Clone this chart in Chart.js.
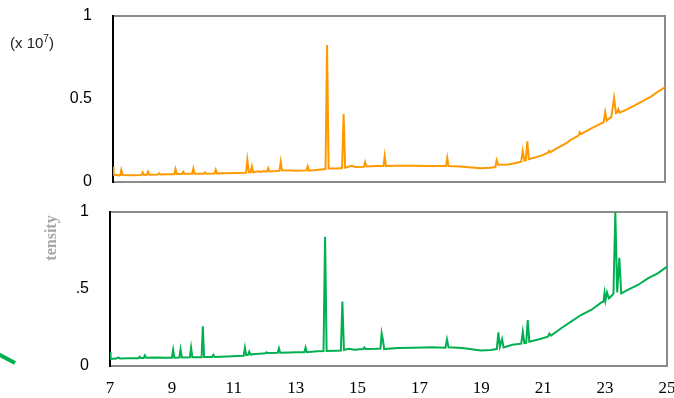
<!DOCTYPE html>
<html>
<head>
<meta charset="utf-8">
<script src="https://cdn.jsdelivr.net/npm/chart.js@4/dist/chart.umd.min.js"></script>
<style>
  html, body { margin: 0; padding: 0; background: #fff; }
  #wrap { position: relative; width: 674px; height: 398px; overflow: hidden; background: #fff; }
  canvas { position: absolute; left: 0; }
  #topCanvas { top: 0; }
  #bottomCanvas { top: 198px; }
  .unit { position: absolute; left: 10px; top: 33px; font: 15px "Liberation Sans", Arial, sans-serif; color: #222; white-space: nowrap; }
  .unit sup { font-size: 10px; }
  .ylab { position: absolute; left: 51px; top: 238px; transform: translate(-50%, -50%) rotate(-90deg);
          font: bold 16px "Liberation Serif", "Times New Roman", serif; color: #a6a6a6; white-space: nowrap; }
  svg.deco { position: absolute; left: 0; top: 0; }
</style>
</head>
<body>
<div id="wrap">
  <canvas id="topCanvas" width="674" height="198"></canvas>
  <canvas id="bottomCanvas" width="674" height="200"></canvas>
  <div class="unit">(x 10<sup>7</sup>)</div>
  <div class="ylab">tensity</div>
  <svg class="deco" width="40" height="398"><line x1="-2" y1="354" x2="15" y2="363" stroke="#00b050" stroke-width="4" stroke-linecap="butt"/></svg>
</div>
<script>
// Retention time axis (min) and intensity axis (x 10^7)
const xTickValues = [7, 9, 11, 13, 15, 17, 19, 21, 23, 25];
const yTickValues = [0, 0.5, 1];
const topYLabels = ['0', '0.5', '1'];
const bottomYLabels = ['0', '.5', '1'];

// Upper trace (orange)
const topTimes = [
  7.00, 7.02, 7.20, 7.24, 7.27, 7.31, 7.60, 7.93, 7.97, 8.01, 8.10, 8.14, 8.18, 8.46, 8.50, 8.54,
  8.80, 9.00, 9.04, 9.08, 9.25, 9.29, 9.33, 9.58, 9.62, 9.66, 9.96, 10.00, 10.04, 10.31, 10.35, 10.39,
  10.70, 11.00, 11.34, 11.38, 11.43, 11.49, 11.53, 11.57, 11.73, 11.80, 11.92, 11.98, 12.02, 12.06, 12.10,
  12.30, 12.43, 12.47, 12.51, 12.80, 13.00, 13.31, 13.35, 13.39, 13.70, 13.93, 13.98, 14.03, 14.30,
  14.47, 14.52, 14.57, 14.78, 14.90, 15.18, 15.22, 15.26, 15.60, 15.82, 15.86, 15.90, 16.30, 16.80,
  17.30, 17.86, 17.90, 17.94, 18.30, 18.70, 19.00, 19.30, 19.47, 19.51, 19.56, 19.60, 19.90, 20.20,
  20.31, 20.36, 20.42, 20.46, 20.51, 20.56, 20.80, 21.00, 21.18, 21.22, 21.26, 21.50, 21.80, 21.92,
  22.00, 22.18, 22.22, 22.26, 22.45, 22.58, 22.75, 22.90, 23.00, 23.05, 23.10, 23.20, 23.25, 23.34,
  23.40, 23.44, 23.48, 23.52, 23.80, 24.00, 24.30, 24.54, 24.80, 25.00
];
const topValues = [
  0.092, 0.045, 0.040, 0.042, 0.072, 0.042, 0.040, 0.042, 0.058, 0.043, 0.044, 0.062, 0.044, 0.045, 0.052, 0.045,
  0.046, 0.047, 0.078, 0.048, 0.048, 0.062, 0.049, 0.049, 0.082, 0.050, 0.050, 0.058, 0.050, 0.051, 0.074, 0.052,
  0.053, 0.054, 0.056, 0.133, 0.058, 0.058, 0.094, 0.059, 0.065, 0.061, 0.066, 0.062, 0.064, 0.084, 0.064,
  0.066, 0.068, 0.122, 0.070, 0.069, 0.068, 0.070, 0.094, 0.068, 0.074, 0.078, 0.825, 0.082, 0.082,
  0.084, 0.410, 0.086, 0.098, 0.090, 0.092, 0.119, 0.094, 0.096, 0.097, 0.157, 0.097, 0.098, 0.098,
  0.097, 0.096, 0.145, 0.096, 0.094, 0.088, 0.083, 0.086, 0.090, 0.131, 0.105, 0.104, 0.106, 0.118,
  0.122, 0.187, 0.128, 0.130, 0.245, 0.137, 0.150, 0.162, 0.175, 0.188, 0.180, 0.205, 0.236, 0.253,
  0.262, 0.280, 0.300, 0.288, 0.308, 0.321, 0.336, 0.352, 0.360, 0.420, 0.370, 0.385, 0.392, 0.506,
  0.414, 0.418, 0.438, 0.418, 0.440, 0.460, 0.490, 0.514, 0.548, 0.570
];

// Lower trace (green)
const bottomTimes = [
  7.00, 7.02, 7.20, 7.27, 7.32, 7.60, 7.92, 7.96, 8.00, 8.09, 8.13, 8.17, 8.50, 8.80, 9.00, 9.04, 9.08,
  9.24, 9.28, 9.32, 9.58, 9.62, 9.66, 9.96, 10.00, 10.04, 10.30, 10.34, 10.38, 10.80, 11.10, 11.32, 11.36,
  11.40, 11.46, 11.50, 11.54, 11.70, 11.85, 12.02, 12.06, 12.10, 12.42, 12.46, 12.50, 12.80, 13.00, 13.28,
  13.32, 13.36, 13.70, 13.90, 13.95, 14.00, 14.30, 14.46, 14.51, 14.56, 14.70, 14.90, 15.18, 15.22, 15.26,
  15.60, 15.74, 15.78, 15.82, 15.86, 16.30, 16.80, 17.40, 17.84, 17.89, 17.94, 18.40, 18.80, 19.00, 19.30,
  19.50, 19.55, 19.60, 19.67, 19.72, 20.00, 20.29, 20.34, 20.39, 20.45, 20.50, 20.55, 20.90, 21.15, 21.20,
  21.25, 21.58, 21.90, 22.22, 22.55, 22.87, 22.95, 22.98, 23.01, 23.06, 23.12, 23.18, 23.27, 23.33, 23.39,
  23.46, 23.52, 23.73, 24.06, 24.38, 24.70, 25.00
];
const bottomValues = [
  0.090, 0.045, 0.048, 0.056, 0.049, 0.050, 0.051, 0.060, 0.052, 0.052, 0.069, 0.053, 0.055, 0.054, 0.054, 0.106, 0.054,
  0.055, 0.108, 0.055, 0.056, 0.119, 0.057, 0.057, 0.258, 0.058, 0.058, 0.073, 0.058, 0.062, 0.065, 0.066, 0.119,
  0.070, 0.072, 0.093, 0.074, 0.078, 0.080, 0.082, 0.089, 0.084, 0.086, 0.115, 0.086, 0.088, 0.090, 0.090,
  0.121, 0.090, 0.095, 0.097, 0.840, 0.097, 0.099, 0.100, 0.418, 0.104, 0.112, 0.106, 0.110, 0.121, 0.110,
  0.112, 0.114, 0.212, 0.170, 0.110, 0.117, 0.119, 0.121, 0.118, 0.173, 0.121, 0.117, 0.106, 0.100, 0.104,
  0.110, 0.219, 0.125, 0.175, 0.121, 0.138, 0.145, 0.223, 0.148, 0.150, 0.299, 0.158, 0.175, 0.190, 0.210,
  0.197, 0.245, 0.288, 0.331, 0.364, 0.411, 0.420, 0.472, 0.425, 0.478, 0.440, 0.450, 0.470, 1.000, 0.478,
  0.703, 0.472, 0.494, 0.526, 0.569, 0.602, 0.645
];

const toPoints = (xs, ys) => xs.map((x, i) => ({ x: x, y: ys[i] }));

// Plot frame: gray box with a black left edge
const framePlugin = {
  id: 'frame',
  beforeDatasetsDraw(chart) {
    const a = chart.chartArea, ctx = chart.ctx;
    ctx.save();
    ctx.lineWidth = 2;
    ctx.strokeStyle = '#8c8c8c';
    ctx.strokeRect(a.left, a.top, a.right - a.left, a.bottom - a.top);
    ctx.strokeStyle = '#000';
    ctx.beginPath();
    ctx.moveTo(a.left, a.top - 1);
    ctx.lineTo(a.left, a.bottom + 1);
    ctx.stroke();
    ctx.restore();
  }
};

// Scales must not push the plot area inward for overhanging tick labels
const noLabelPadding = s => { s.paddingTop = 0; s.paddingBottom = 0; s.paddingLeft = 0; s.paddingRight = 0; };

function makeChart(canvasId, points, color, yLabels, showX, padding, yWidth) {
  return new Chart(document.getElementById(canvasId), {
    type: 'line',
    data: {
      datasets: [{
        data: points,
        borderColor: color,
        borderWidth: 2,
        pointRadius: 0,
        tension: 0,
        fill: false
      }]
    },
    options: {
      responsive: false,
      animation: false,
      events: [],
      layout: { padding: padding, autoPadding: false },
      plugins: { legend: { display: false }, tooltip: { enabled: false } },
      scales: {
        x: {
          type: 'linear',
          min: 7, max: 25,
          display: showX,
          afterBuildTicks: s => { s.ticks = xTickValues.map(v => ({ value: v })); },
          afterFit: s => { noLabelPadding(s); if (showX) s.height = 32; },
          grid: { display: false, drawTicks: false },
          border: { display: false },
          ticks: {
            padding: 12,
            autoSkip: false,
            maxRotation: 0,
            color: '#000',
            font: { family: '"Liberation Serif", "Times New Roman", serif', size: 17 },
            callback: v => String(v)
          }
        },
        y: {
          type: 'linear',
          min: 0, max: 1,
          afterBuildTicks: s => { s.ticks = yTickValues.map(v => ({ value: v })); },
          afterFit: s => { noLabelPadding(s); s.width = yWidth; },
          grid: { display: false, drawTicks: false },
          border: { display: false },
          ticks: {
            padding: 21,
            color: '#000',
            font: { family: '"Liberation Sans", Arial, sans-serif', size: 16 },
            callback: (v) => yLabels[yTickValues.indexOf(v)]
          }
        }
      }
    },
    plugins: [framePlugin]
  });
}

makeChart('topCanvas', toPoints(topTimes, topValues), '#ff9900', topYLabels, false,
  { top: 16, right: 9, bottom: 16, left: 0 }, 113);
makeChart('bottomCanvas', toPoints(bottomTimes, bottomValues), '#00b050', bottomYLabels, true,
  { top: 14, right: 7, bottom: 0, left: 0 }, 110);
</script>
</body>
</html>
